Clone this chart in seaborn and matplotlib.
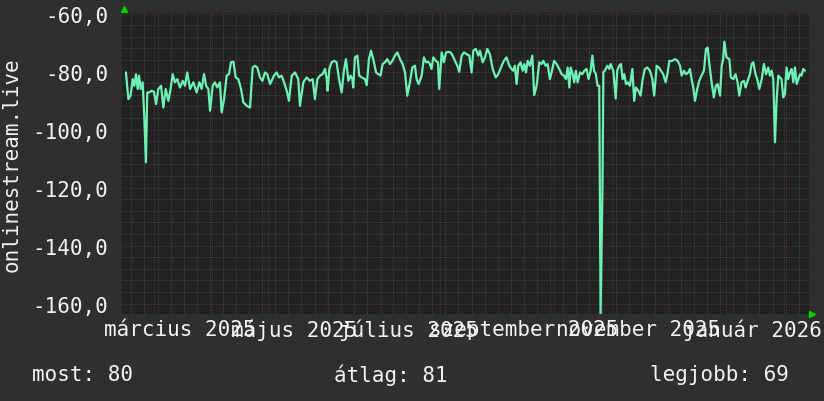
import pandas as pd
import matplotlib
matplotlib.use("Agg")
import matplotlib.pyplot as plt
import matplotlib.dates as mdates
import matplotlib.transforms as mtransforms
from matplotlib.ticker import MultipleLocator, FuncFormatter
import seaborn as sns

# ===============================
# Data
# ===============================
start = pd.Timestamp("2025-02-12")
end_days = 367.5

days = [
    2.1, 3.4, 4.6, 5.7, 6.6, 7.5, 8.4, 9.1, 10.0, 11.05, 11.9, 12.8, 13.5, 14.6, 15.9, 17.1,
    18.2, 19.4, 20.9, 22.1, 23.4, 24.8, 26.0, 27.1, 28.3, 29.6, 31.0, 32.5, 33.7, 34.9, 36.4,
    38.2, 39.9, 41.4, 42.6, 43.9, 45.0, 46.2, 47.1, 48.5, 49.7, 51.0, 52.4, 53.3, 54.6, 56.0,
    57.2, 58.3, 59.6, 60.8, 62.2, 63.7, 64.9, 66.7, 68.5, 69.9, 71.1, 72.4, 73.8, 75.1, 76.5,
    77.7, 79.2, 80.4, 81.3, 82.7, 84.0, 85.4, 86.7, 88.1, 89.3, 90.8, 92.5, 94.3,
    95.2, 97.0, 98.8, 100.5, 102.0, 103.2, 104.5, 105.9, 107.3, 108.6, 109.5, 110.0, 110.9,
    112.1, 113.6, 114.8, 116.1, 117.5, 118.7, 119.8, 121.1, 122.3, 123.2, 123.7, 124.6, 125.9,
    126.9, 128.2, 130.0, 130.9, 132.1, 133.2, 134.4, 135.9, 137.1, 138.3, 139.4, 140.7, 141.9,
    143.3, 144.6, 146.0, 147.3, 148.7, 150.1, 151.4, 152.6, 154.0, 155.3, 156.7, 157.6, 158.7,
    160.3, 161.5, 162.6, 163.8, 164.7, 165.6, 166.5, 167.9, 169.0, 169.7, 171.0, 172.2, 173.3,
    174.5, 175.8, 176.9, 178.1, 179.4, 180.4, 181.7, 182.9, 184.4, 185.8, 187.0, 187.9, 189.3,
    190.6, 191.5, 192.9, 194.2, 195.4, 196.8, 198.3, 199.9, 201.3, 203.1, 204.3, 205.7, 207.2,
    208.4, 209.3, 210.2, 211.1, 212.0, 213.2, 214.3, 215.2, 216.1, 217.0, 218.2, 219.5, 220.5,
    221.8, 223.2, 224.5, 225.4, 226.6, 227.7, 228.9, 229.8, 231.1, 232.5, 233.9, 235.2, 236.4,
    237.5, 238.4, 239.3, 240.0, 241.1, 241.9, 242.8, 243.7, 245.0, 246.2, 247.3, 248.5, 249.6,
    250.7, 251.6, 252.5, 253.5, 254.4, 255.3, 256.0, 257.0, 257.5, 258.3, 259.6, 260.7, 261.4,
    262.8, 264.1, 264.9, 266.0, 266.9, 267.8, 268.7, 269.6, 270.5, 271.7, 273.0, 274.0, 274.9,
    276.2, 277.4, 278.5, 279.7, 281.0, 282.4, 283.7, 284.7, 286.0, 287.2, 288.3, 289.5, 290.8,
    291.9, 292.8, 294.4, 295.8, 297.2, 298.5, 299.4, 300.6, 301.7, 302.9, 303.8, 304.7, 305.6,
    306.5, 307.7, 308.8, 310.0, 311.3, 312.4, 313.3, 314.1, 315.4, 316.6, 317.7, 318.6, 319.9,
    320.8, 321.6, 322.2, 323.4, 324.9, 325.7, 327.0, 328.2, 329.3, 330.2, 331.4, 332.7, 333.6,
    334.7, 335.9, 336.8, 337.7, 338.9, 339.8, 340.9, 342.2, 343.4, 344.5, 345.7, 346.6, 347.5,
    348.4, 349.3, 350.2, 351.1, 351.9, 352.8, 353.7, 354.6, 355.5, 356.4, 357.3, 358.2, 359.1,
    360.0, 360.9, 361.8, 362.7, 363.5, 364.4, 365.3,
]

values = [
    -80.3, -89.5, -88.3, -82.6, -84.9, -80.9, -86.0, -81.4, -86.0, -83.7, -95.2, -111.3, -87.2,
    -87.2, -86.6, -87.0, -91.2, -86.0, -84.9, -92.4, -86.0, -90.1, -86.0, -80.9, -83.7, -82.6,
    -85.5, -83.2, -84.9, -80.3, -86.0, -83.7, -87.2, -83.7, -86.0, -80.9, -84.9, -86.0, -93.5,
    -84.9, -83.7, -85.5, -83.7, -94.1, -89.5, -81.4, -80.9, -76.8, -76.6, -82.0, -82.6, -86.0,
    -90.6, -91.8, -92.4, -78.6, -78.0, -78.6, -82.0, -83.2, -80.3, -80.9, -84.3, -82.6, -81.4,
    -80.3, -82.0, -81.4, -83.7, -86.6, -90.1, -81.4, -80.3, -82.6,
    -91.8, -83.7, -82.0, -83.2, -82.6, -89.5, -82.6, -81.4, -80.9, -79.1, -82.6, -86.6, -79.1,
    -76.8, -76.3, -76.8, -82.6, -87.2, -79.7, -75.7, -83.2, -81.4, -82.6, -85.5, -75.1, -74.5,
    -81.4, -82.0, -82.6, -84.7, -75.7, -72.8, -75.7, -80.3, -80.9, -81.4, -77.4, -76.8, -75.7,
    -77.4, -76.3, -74.5, -73.4, -75.7, -77.4, -80.3, -88.3, -83.7, -78.6, -78.0, -82.6, -84.3,
    -81.4, -75.1, -76.8, -76.6, -77.4, -79.1, -75.1, -76.3, -76.8, -86.0, -73.4, -76.8, -73.4,
    -73.2, -73.4, -74.5, -76.3, -78.0, -80.1, -74.5, -73.4, -74.0, -74.5, -80.3, -72.8, -72.2,
    -74.5, -72.8, -76.8, -75.1, -72.2, -74.0, -79.1, -82.0, -80.9, -78.0, -76.3, -75.1, -78.0,
    -79.1, -79.7, -78.0, -84.3, -78.0, -76.8, -79.7, -77.4, -80.3, -76.3, -78.0, -74.5, -88.1,
    -84.9, -76.8, -77.4, -76.3, -78.0, -77.4, -82.6, -80.3, -76.3, -77.4, -79.1, -80.9, -81.4,
    -82.6, -78.6, -85.5, -78.6, -80.9, -83.7, -79.7, -83.7, -80.3, -80.9, -79.7, -79.1, -82.6,
    -79.7, -74.5, -79.7, -80.9, -84.9, -84.9, -163.5, -121.0, -80.2, -79.7, -78.0, -79.1, -77.4,
    -79.7, -89.3, -79.7, -78.0, -77.4, -82.6, -80.9, -84.3, -83.7, -84.9, -79.1, -90.1, -85.5,
    -86.6, -88.3, -82.6, -79.1, -78.6, -79.7, -82.6, -88.3, -78.0, -78.6, -79.7, -80.9, -83.7,
    -80.3, -76.3, -76.3, -75.7, -76.3, -78.0, -81.4, -79.7, -80.9, -80.3, -79.1, -82.6, -85.5,
    -90.1, -86.0, -83.2, -81.4, -79.7, -72.2, -71.7, -76.8, -83.7, -88.9, -84.9, -84.3, -88.3,
    -78.0, -75.7, -69.7, -75.1, -75.7, -82.0, -82.6, -80.9, -83.7, -88.3, -83.7, -83.2, -85.5,
    -83.2, -80.9, -77.4, -76.8, -80.9, -82.6, -86.0, -82.6, -77.4, -80.9, -78.6, -81.4, -79.7,
    -82.6, -104.4, -89.5, -81.4, -82.0, -82.6, -88.9, -87.8, -78.6, -82.6, -80.3, -79.1, -83.7,
    -78.6, -84.3, -82.6, -80.9, -81.4, -79.1, -79.7,
]

month_labels = ["március 2025", "május 2025", "július 2025",
                "szeptember 2025", "november 2025", "január 2026"]
label_dates = ["2025-03-15", "2025-05-15", "2025-07-15",
               "2025-09-15", "2025-11-15", "2026-01-15"]
y_ticks = [-60, -80, -100, -120, -140, -160]
y_title = "onlinestream.live"
summary = ["most: 80", "átlag: 81", "legjobb: 69"]

df = pd.DataFrame({"date": start + pd.to_timedelta(days, unit="D"), "value": values})

# ===============================
# Style
# ===============================
sns.set_style("dark")
outer_bg = "#2f2f2f"
plot_bg = "#222222"
text_c = "#f2f2f2"
line_c = "#6ef2b4"
plt.rcParams["font.family"] = ["DejaVu Sans Mono"]

fig = plt.figure(figsize=(8.24, 4.02), dpi=100, facecolor=outer_bg)
ax = fig.add_axes([122 / 824, 87 / 402, 687 / 824, 301 / 402])
ax.set_facecolor(plot_bg)

sns.lineplot(data=df, x="date", y="value", ax=ax, color=line_c, linewidth=1.6)

ax.set_xlim(start, start + pd.Timedelta(days=end_days))
ax.set_ylim(-163.6, -59.8)

# grid: monthly major (red), weekly minor (gray)
ax.xaxis.set_major_locator(mdates.MonthLocator())
ax.xaxis.set_minor_locator(mdates.WeekdayLocator(byweekday=mdates.MO))
ax.yaxis.set_major_locator(MultipleLocator(20))
ax.yaxis.set_minor_locator(MultipleLocator(4))
ax.grid(which="minor", color="#464646", linestyle=(0, (1, 1)), linewidth=0.6)
ax.grid(which="major", color="#5e3434", linestyle=(0, (1, 1)), linewidth=0.6)
ax.set_axisbelow(True)

ax.set_yticks(y_ticks)
ax.yaxis.set_major_formatter(FuncFormatter(lambda v, p: f"{v:.1f}".replace(".", ",")))
ax.tick_params(axis="y", which="both", length=0, pad=10, colors=text_c, labelsize=15)
ax.tick_params(axis="x", which="both", length=0, labelbottom=False)
ax.set_xlabel("")
ax.set_ylabel("")
for s in ax.spines.values():
    s.set_visible(False)

# month labels under the plot
trans = mtransforms.blended_transform_factory(ax.transData, ax.transAxes)
for lab, d in zip(month_labels, label_dates):
    ax.text(mdates.date2num(pd.Timestamp(d)), -0.05, lab, transform=trans,
            ha="center", va="center", color=text_c, fontsize=15, clip_on=False)

fig.text(12 / 824, 1 - 165 / 402, y_title, rotation=90, ha="center", va="center",
         color=text_c, fontsize=15)

# footer
fig.text(32 / 824, 1 - 375 / 402, summary[0], ha="left", va="center", color=text_c, fontsize=15)
fig.text(334 / 824, 1 - 375 / 402, summary[1], ha="left", va="center", color=text_c, fontsize=15)
fig.text(650 / 824, 1 - 375 / 402, summary[2], ha="left", va="center", color=text_c, fontsize=15)

# little green axis arrows
ax.plot([0.003], [1.0], marker="^", color="#00d000", markersize=5,
        transform=ax.transAxes + mtransforms.ScaledTranslation(0, 4 / 100, fig.dpi_scale_trans),
        clip_on=False)
ax.plot([1.0], [0.0], marker=">", color="#00d000", markersize=5,
        transform=ax.transAxes + mtransforms.ScaledTranslation(3 / 100, 0, fig.dpi_scale_trans),
        clip_on=False)

plt.savefig("out.png", dpi=100, facecolor=outer_bg)
